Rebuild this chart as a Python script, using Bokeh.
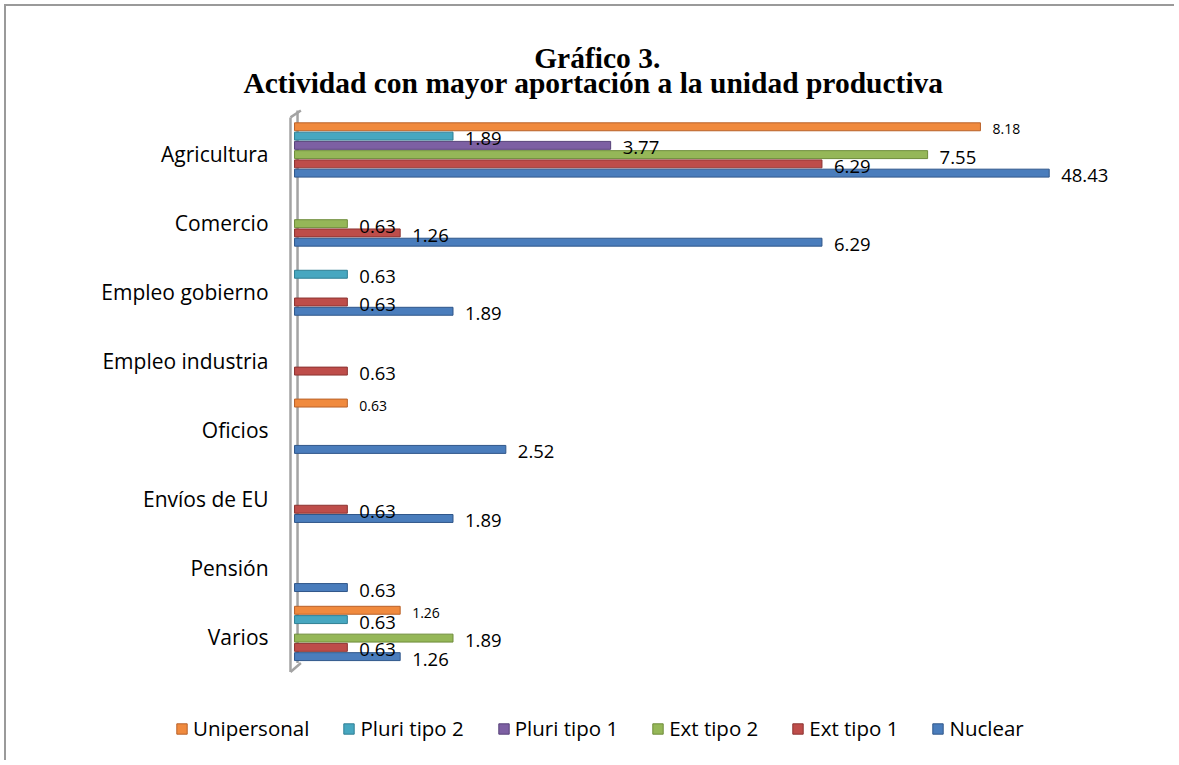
import numpy as np
from bokeh.plotting import figure
from bokeh.models import ColumnDataSource, Legend, LegendItem, Range1d
from bokeh.core.properties import value
from bokeh.embed import file_html
from bokeh.resources import INLINE

# ---------------- data ----------------
title_lines = ["Gráfico 3.", "Actividad con mayor aportación a la unidad  productiva"]
categories = ["Agricultura", "Comercio", "Empleo gobierno", "Empleo industria",
              "Oficios", "Envíos de EU", "Pensión", "Varios"]
series = ["Unipersonal", "Pluri tipo 2", "Pluri tipo 1", "Ext tipo 2", "Ext tipo 1", "Nuclear"]
unipersonal = [8.18, 0, 0, 0, 0.63, 0, 0, 1.26]
pluri_tipo_2 = [1.89, 0, 0.63, 0, 0, 0, 0, 0.63]
pluri_tipo_1 = [3.77, 0, 0, 0, 0, 0, 0, 0]
ext_tipo_2 = [7.55, 0.63, 0, 0, 0, 0, 0, 1.89]
ext_tipo_1 = [6.29, 1.26, 0.63, 0.63, 0, 0.63, 0, 0.63]
nuclear = [48.43, 6.29, 1.89, 0, 2.52, 1.89, 0.63, 1.26]
values_by_series = [unipersonal, pluri_tipo_2, pluri_tipo_1, ext_tipo_2, ext_tipo_1, nuclear]
axis_max = 9.0  # value-axis maximum of the original chart (longer bars are cut there)

# ---------------- style ----------------
colors = ["#F08A3E", "#47A7C0", "#7D60A3", "#95B758", "#BE4D4A", "#4A7DBC"]
edges = ["#B9622A", "#2F7F94", "#574279", "#6E8C3A", "#8C3331", "#30578A"]
dodge = [0.394, 0.259, 0.125, -0.009, -0.143, -0.277]
bar_h = 0.115
label_sizes = ["14px", "18.5px", "18.5px", "18.5px", "18.5px", "18.5px"]
FONT = "Open Sans"
TXT = "#000000"

n = len(categories)
ypos = [n - 1 - i for i in range(n)]

# plot area spans the whole figure; ranges chosen so that the value axis
# starts just right of the category labels and the title/legend fit inside
p = figure(width=1170, height=756, output_backend="svg", toolbar_location=None,
           x_range=Range1d(-3.387, 10.518), y_range=Range1d(-1.81, 9.1355),
           min_border_left=4, min_border_right=0, min_border_top=0, min_border_bottom=0)
p.title.text = ""
p.xaxis.visible = False
p.yaxis.visible = False
p.xgrid.visible = False
p.ygrid.visible = False
p.outline_line_color = None
p.background_fill_color = "white"
p.border_fill_color = "white"
p.styles = {"margin-left": "4px", "margin-top": "4px",
            "border-top": "2px solid #9A9A9A", "border-left": "2px solid #9A9A9A"}

# chart title (two centred lines)
title_src = ColumnDataSource(dict(x=[3.61, 3.61], y=[8.397, 8.021], text=title_lines))
p.text(x="x", y="y", text="text", source=title_src, text_align="center",
       text_baseline="middle", text_font=value("Liberation Serif"),
       text_font_style="bold", text_font_size="29.5px", text_color=TXT)

# category labels at the category axis
cat_src = ColumnDataSource(dict(x=[0] * n, y=ypos, text=categories))
p.text(x="x", y="y", text="text", source=cat_src, x_offset=-26,
       text_align="right", text_baseline="middle", text_font=value(FONT),
       text_font_size="21px", text_color=TXT)

# 3D-like wall of the category axis
y_lo, y_hi = -0.5, n - 0.5
wx0, wx1 = -0.048, 0.036
p.segment(x0=[wx0, wx1, wx0, wx0], y0=[y_lo, y_lo + 0.13, y_hi + 0.03, y_lo],
          x1=[wx0, wx1, wx1 + 0.04, wx1 + 0.04], y1=[y_hi + 0.03, y_hi + 0.13, y_hi + 0.13, y_lo + 0.13],
          line_color="#A3A3A3", line_width=2.5)

# bars first, then all value labels on top of them
items = []
sources = []
for k, (name, vals) in enumerate(zip(series, values_by_series)):
    ys, rights, labels = [], [], []
    for j, v in enumerate(vals):
        if v and v > 0:
            ys.append(ypos[j] + dodge[k])
            rights.append(min(v, axis_max))
            labels.append(f"{v:.2f}")
    src = ColumnDataSource(dict(y=ys, right=rights, label=labels))
    sources.append(src)
    r = p.hbar(y="y", left=0, right="right", height=bar_h, source=src,
               fill_color=colors[k], line_color=edges[k], line_width=1)
    items.append(LegendItem(label=name, renderers=[r]))

for k, src in enumerate(sources):
    p.text(x="right", y="y", text="label", source=src, x_offset=12, y_offset=2.5,
           text_font=value(FONT), text_font_size=label_sizes[k], text_baseline="middle",
           text_align="left", text_color=TXT)

legend = Legend(items=items, orientation="horizontal", location=(165, 20),
                glyph_width=13, glyph_height=13, label_standoff=5, spacing=33,
                padding=0, margin=0, border_line_color=None, background_fill_alpha=0,
                label_text_font=FONT, label_text_font_size="20.5px", label_text_color=TXT)
p.add_layout(legend)

open("out.html", "w").write(file_html(p, INLINE))
